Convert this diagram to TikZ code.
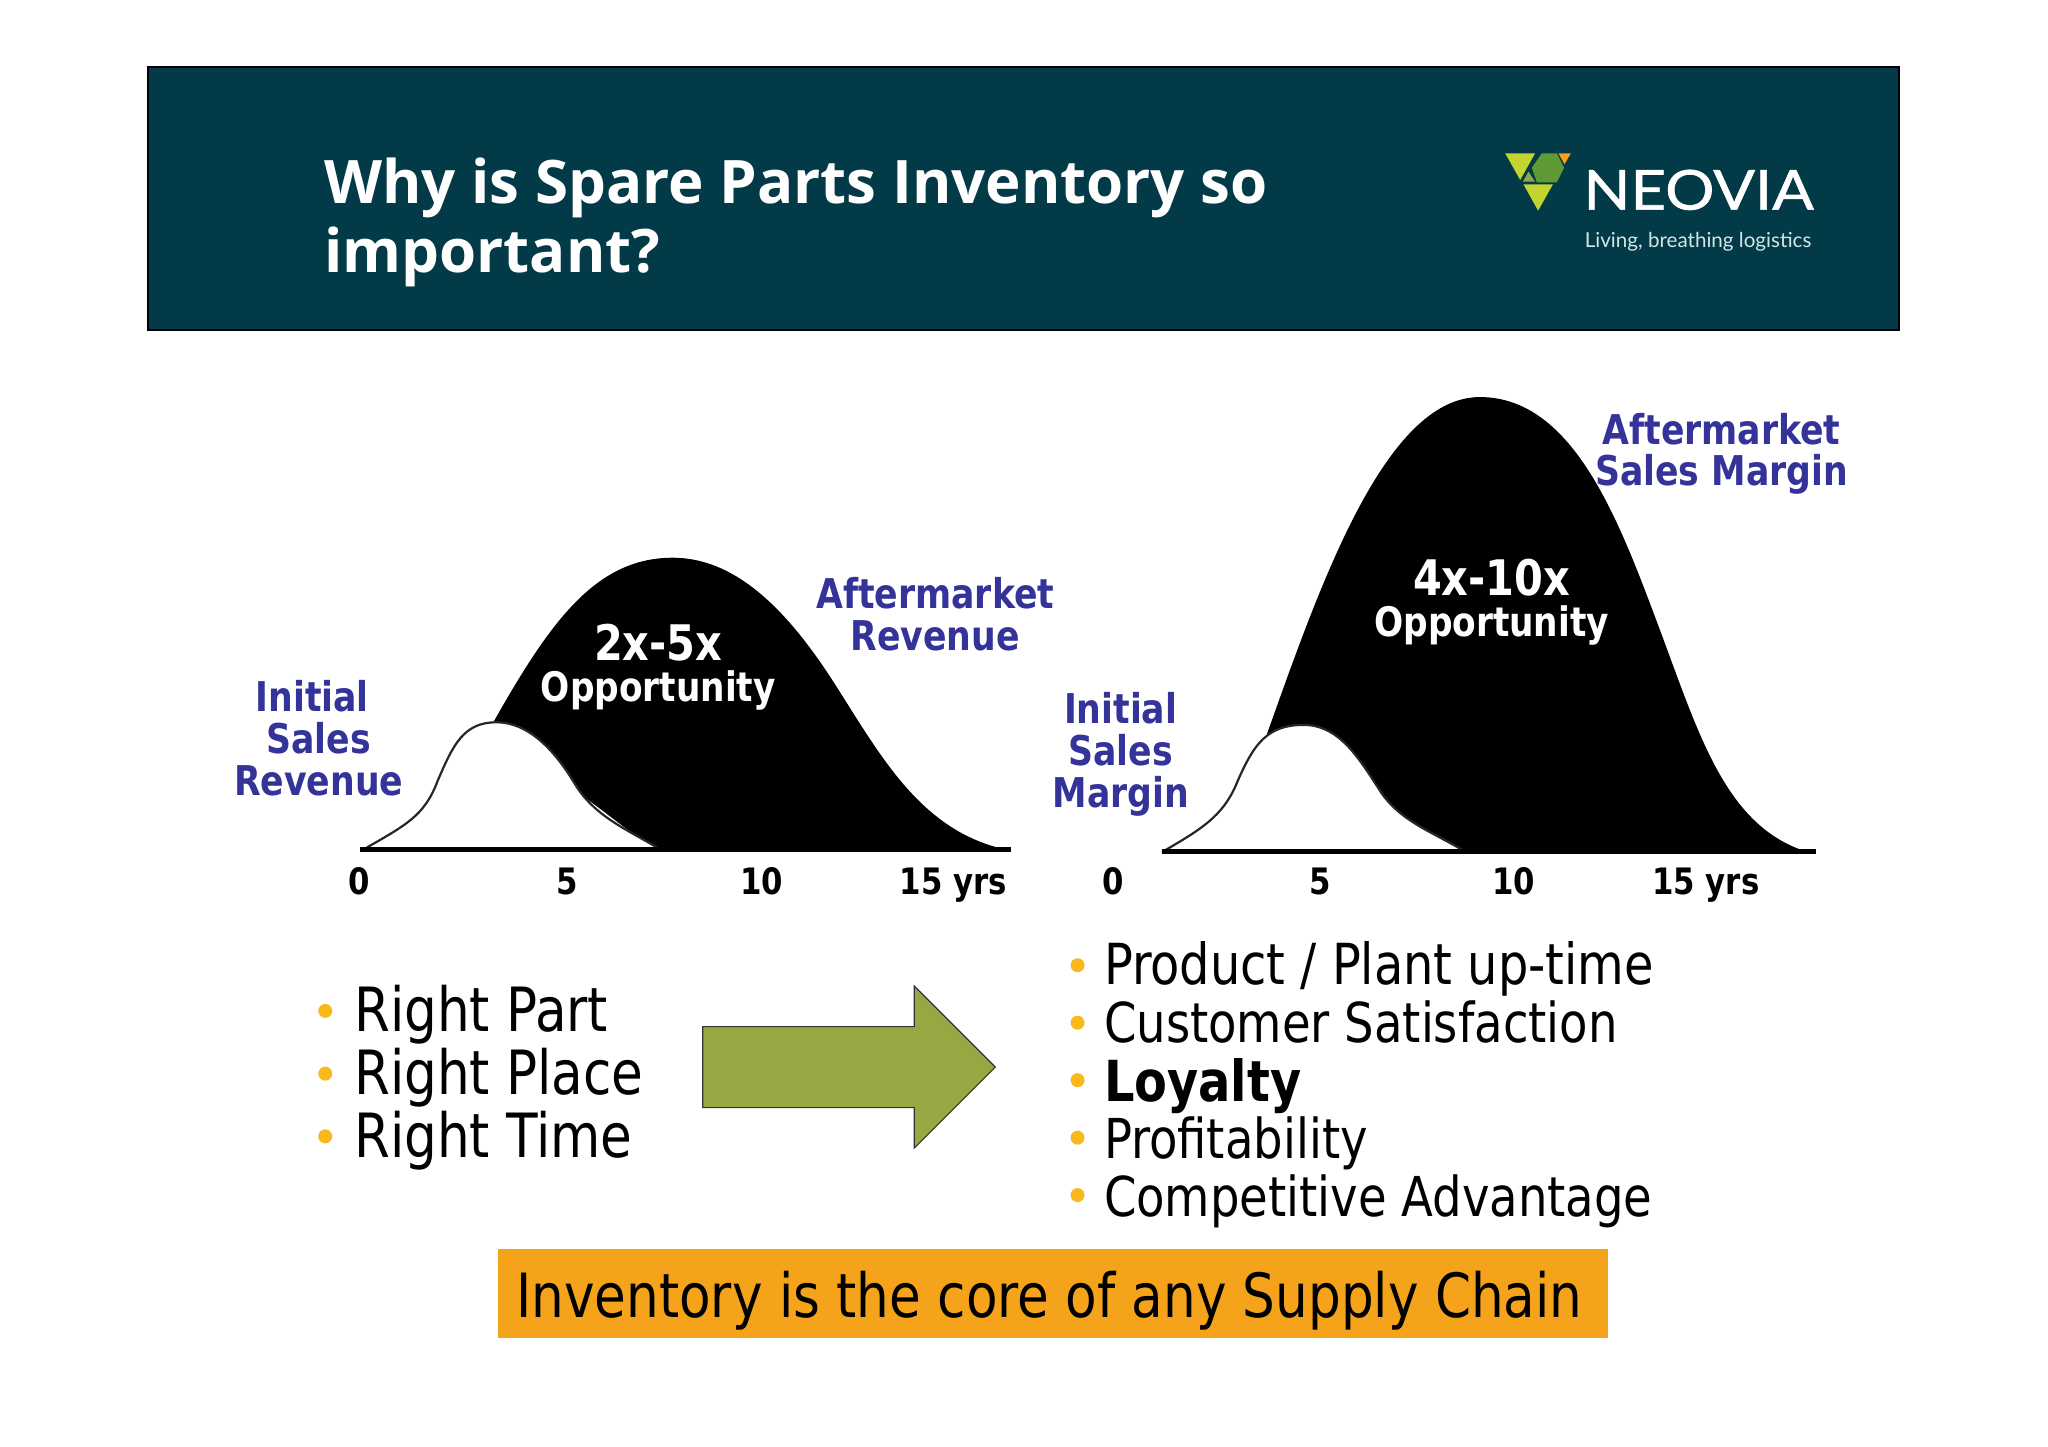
\documentclass[tikz,border=0pt]{standalone}
\usepackage{fontspec}
\setmainfont{DejaVu Sans Condensed}[FakeStretch=0.94]
\newfontfamily\titlefont{Open Sans}
\newfontfamily\logofont{Lato}
\newfontfamily\logowide{Lato}[FakeStretch=1.12,FakeBold=1.2]
\definecolor{headbg}{HTML}{033A47}
\definecolor{labelblue}{HTML}{333399}
\definecolor{arrowgreen}{HTML}{95A844}
\definecolor{bulletyel}{HTML}{F9B91C}
\definecolor{boxorange}{HTML}{F5A31B}
\definecolor{logolime}{HTML}{C3D32F}
\definecolor{logogreen}{HTML}{5F9A35}
\definecolor{logoolive}{HTML}{94A64C}
\definecolor{logoorange}{HTML}{F7A11E}
\definecolor{taggrey}{HTML}{D5E4E6}
\tikzset{
  bluelabel/.style={font=\fontsize{20.5}{24}\selectfont\bfseries,text=labelblue,inner sep=0pt,anchor=base},
  whitebig/.style={font=\fontsize{24.5}{26}\selectfont\bfseries,text=white,inner sep=0pt,anchor=base},
  whitesmall/.style={font=\fontsize{20.3}{24}\selectfont\bfseries,text=white,inner sep=0pt,anchor=base},
  axislabel/.style={font=\fontsize{18.2}{20}\selectfont\bfseries,text=black,inner sep=0pt,anchor=base},
  leftitem/.style={font=\fontsize{30.5}{34}\selectfont,text=black,inner sep=0pt,anchor=base west},
  rightitem/.style={font=\fontsize{27.5}{30}\selectfont,text=black,inner sep=0pt,anchor=base west},
  bulletdot/.style={circle,fill=bulletyel,inner sep=0pt,minimum size=7pt},
  titletext/.style={font=\titlefont\fontsize{30}{34}\selectfont\bfseries,text=white,inner sep=0pt,anchor=base west},
  humpline/.style={fill=white,draw=black!85,line width=1.1pt},
  axisline/.style={black,line width=2.2pt},
}
\begin{document}
\begin{tikzpicture}[x=0.653061pt,y=-0.653061pt]
\useasboundingbox (0,0) rectangle (1568,1107.84);
\fill[white] (0,0) rectangle (1568,1107.84);
% header
\draw[fill=headbg,draw=black,line width=0.8pt] (113.5,51.5) rectangle (1454,252.5);
\node[titletext] (t1) at (248,155.5) {Why is Spare Parts Inventory so};
\node[titletext] (t2) at (248,208.5) {important?};
% logo
\fill[logolime] (1152.4,117.4) -- (1175.3,117.4) -- (1163.9,137.8) -- cycle;
\fill[logogreen] (1180.4,117.4) -- (1191.9,117.4) -- (1197.5,128.4) -- (1191.9,139.6) -- (1176.6,139.6) -- (1172.8,128.4) -- cycle;
\fill[logoorange] (1193.2,117.4) -- (1202.6,117.4) -- (1197.8,125.8) -- cycle;
\fill[logoolive] (1170.2,131.5) -- (1175.3,139.1) -- (1165.9,139.1) -- cycle;
\fill[logolime] (1166.4,141.2) -- (1188.9,141.2) -- (1177.6,161.3) -- cycle;
\node[font=\logowide\fontsize{27.5}{30}\selectfont,text=white,inner sep=0pt,anchor=base west] (neovia) at (1212,160.5) {NEOVIA};
\node[font=\logofont\fontsize{10.3}{12}\selectfont,text=taggrey,inner sep=0pt,anchor=base west] (tag) at (1213,189.5) {Living, breathing logistics};
% left curves
\fill[black] (376,556) .. controls (420,478) and (455,427) .. (515,427) .. controls (565,427) and (605,470) .. (640,525) .. controls (675,580) and (705,635) .. (768,650) -- (500,650) -- cycle;
\draw[humpline] (279,650) .. controls (310,632) and (325,625) .. (335,598) .. controls (347,570) and (355,553) .. (380,553) .. controls (405,553) and (425,575) .. (440,600) .. controls (455,625) and (480,635) .. (505,650) -- cycle;
\draw[axisline] (276,650.5) -- (774,650.5);
% right curves
\fill[black] (970,562) .. controls (1010,450) and (1060,304) .. (1133,304) .. controls (1205,304) and (1240,400) .. (1270,480) .. controls (1300,560) and (1320,630) .. (1380,651) -- (1115,651) -- cycle;
\draw[humpline] (892,651) .. controls (925,632) and (938,622) .. (948,597) .. controls (960,570) and (970,555) .. (998,555) .. controls (1025,555) and (1040,580) .. (1055,603) .. controls (1070,628) and (1095,636) .. (1120,651) -- cycle;
\draw[axisline] (890,652) -- (1390,652);
% chart labels
\node[bluelabel] (il1) at (239,545) {Initial};
\node[bluelabel] (il2) at (244,577) {Sales};
\node[bluelabel] (il3) at (244,609) {Revenue};
\node[bluelabel] (al1) at (716,466) {Aftermarket};
\node[bluelabel] (al2) at (716,498) {Revenue};
\node[whitebig] (o1) at (504,506) {2x-5x};
\node[whitesmall] (o2) at (504,537) {Opportunity};
\node[axislabel] (x10) at (275,685) {0};
\node[axislabel] (x11) at (434,685) {5};
\node[axislabel] (x12) at (583,685) {10};
\node[axislabel] (x13) at (730,685) {15 yrs};
\node[bluelabel] (ir1) at (858,554) {Initial};
\node[bluelabel] (ir2) at (858,586) {Sales};
\node[bluelabel] (ir3) at (858,618) {Margin};
\node[bluelabel] (ar1) at (1318,340) {Aftermarket};
\node[bluelabel] (ar2) at (1318,372) {Sales Margin};
\node[whitebig] (p1) at (1142,456) {4x-10x};
\node[whitesmall] (p2) at (1142,487) {Opportunity};
\node[axislabel] (x20) at (852,685) {0};
\node[axislabel] (x21) at (1011,685) {5};
\node[axislabel] (x22) at (1159,685) {10};
\node[axislabel] (x23) at (1306,685) {15 yrs};
% left list
\node[bulletdot] (b1) at (249,774) {};
\node[bulletdot] (b2) at (249,822) {};
\node[bulletdot] (b3) at (249,870) {};
\node[leftitem] (l1) at (271,790) {Right Part};
\node[leftitem] (l2) at (271,838) {Right Place};
\node[leftitem] (l3) at (271,886) {Right Time};
% arrow
\draw[fill=arrowgreen,draw=black!80,line width=0.6pt] (538,786) -- (700,786) -- (700,755) -- (762,817) -- (700,879) -- (700,848) -- (538,848) -- cycle;
% right list
\node[bulletdot] (c1) at (825,739) {};
\node[bulletdot] (c2) at (825,783) {};
\node[bulletdot] (c3) at (825,827) {};
\node[bulletdot] (c4) at (825,871) {};
\node[bulletdot] (c5) at (825,915) {};
\node[rightitem,font=\fontsize{28.3}{30}\selectfont] (r1) at (845,754) {Product / Plant up-time};
\node[rightitem] (r2) at (845,798) {Customer Satisfaction};
\node[rightitem,font=\fontsize{28.3}{30}\selectfont\bfseries] (r3) at (845,843) {Loyalty};
\node[rightitem] (r4) at (845,887) {Profitability};
\node[rightitem] (r5) at (845,931) {Competitive Advantage};
% banner
\fill[boxorange] (381,956) rectangle (1231,1024.5);
\node[font=\fontsize{30.5}{34}\selectfont,text=black,inner sep=0pt,anchor=base west] (banner) at (395,1009) {Inventory is the core of any Supply Chain};
\end{tikzpicture}
\end{document}
